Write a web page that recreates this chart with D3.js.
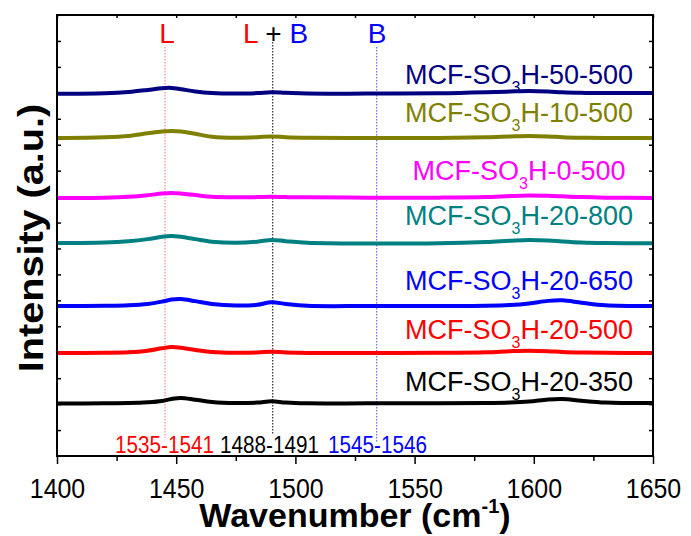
<!DOCTYPE html>
<html>
<head>
<meta charset="utf-8">
<script src="https://cdn.jsdelivr.net/npm/d3@7"></script>
<style>
  html, body { margin: 0; padding: 0; background: #fff; }
  svg { display: block; font-family: "Liberation Sans", Arial, sans-serif; }
</style>
</head>
<body>
<svg id="chart" width="691" height="536"></svg>
<script>
// Wavenumber grid (cm^-1) shared by all spectra
const wavenumbers = [1400, 1420, 1430, 1438, 1444, 1448, 1452, 1458, 1465, 1475, 1484, 1490,
                     1496, 1505, 1530, 1560, 1580, 1590, 1598, 1606, 1612, 1620, 1630, 1650];

// Stacked pyridine-IR intensities (a.u., offset per sample)
const s20_350 = [2.02, 2.03, 2.04, 2.07, 2.12, 2.20, 2.24, 2.17, 2.08, 2.04, 2.06, 2.11,
                 2.06, 2.03, 2.03, 2.03, 2.04, 2.06, 2.10, 2.18, 2.20, 2.13, 2.06, 2.04];
const s20_500 = [3.97, 3.98, 4.00, 4.06, 4.15, 4.20, 4.17, 4.09, 4.01, 3.98, 3.99, 4.02,
                 3.99, 3.97, 3.97, 3.98, 4.00, 4.04, 4.06, 4.04, 4.01, 3.99, 3.98, 3.97];
const s20_650 = [5.78, 5.79, 5.81, 5.86, 5.95, 6.03, 6.05, 5.97, 5.86, 5.80, 5.83, 5.93,
                 5.86, 5.79, 5.78, 5.78, 5.79, 5.82, 5.88, 5.98, 6.00, 5.91, 5.81, 5.78];
const s20_800 = [8.21, 8.23, 8.28, 8.36, 8.45, 8.48, 8.45, 8.36, 8.26, 8.22, 8.26, 8.33,
                 8.28, 8.22, 8.19, 8.20, 8.25, 8.30, 8.33, 8.31, 8.27, 8.23, 8.21, 8.20];
const s0_500  = [9.95, 9.96, 9.99, 10.05, 10.12, 10.14, 10.12, 10.06, 9.99, 9.97, 9.98, 9.99,
                 9.98, 9.97, 9.96, 9.96, 9.98, 10.02, 10.04, 10.03, 10.01, 9.98, 9.96, 9.95];
const s10_500 = [12.26, 12.29, 12.34, 12.44, 12.51, 12.53, 12.51, 12.42, 12.31, 12.27, 12.29, 12.32,
                 12.29, 12.27, 12.26, 12.26, 12.29, 12.32, 12.34, 12.32, 12.29, 12.27, 12.26, 12.26];
const s50_500 = [13.96, 13.98, 14.03, 14.11, 14.18, 14.19, 14.14, 14.05, 13.99, 13.97, 13.99, 14.02,
                 14.00, 13.97, 13.97, 13.98, 14.02, 14.05, 14.07, 14.05, 14.02, 14.00, 13.99, 13.99];

// Sample name parts: "MCF-SO" + subscript "3" + "H-" + suffix
const sampleSuffixes = ["20-350", "20-500", "20-650", "20-800", "0-500", "10-500", "50-500"];
const sampleColors   = ["#000000", "#ff0000", "#0000ff", "#008080", "#ff00ff", "#808000", "#000080"];
const sampleSeries   = [s20_350, s20_500, s20_650, s20_800, s0_500, s10_500, s50_500];

// Band reference lines and their annotations
const bandPositions   = [1445.3, 1490.5, 1534.1];
const bandLineColors  = ["#ff7070", "#000000", "#5050ff"];
const rangeLabels     = ["1535-1541", "1488-1491", "1545-1546"];
const rangeColors     = ["#ff0000", "#000000", "#0000ff"];

const xTicks = [1400, 1450, 1500, 1550, 1600, 1650];
const xMinorTicks = [1425, 1475, 1525, 1575, 1625];

// ---- layout ----
const plotLeft = 57, plotRight = 653, plotTop = 15, plotBottom = 456;
const svg = d3.select("#chart");

const x = d3.scaleLinear().domain([1400, 1650]).range([plotLeft, plotRight]);
const y = d3.scaleLinear().domain([0, 17]).range([plotBottom, plotTop]);

// axes: inward ticks on left/right/top, outward on bottom
const axisStyle = g => {
  g.select(".domain").remove();
  g.selectAll(".tick line").attr("stroke", "#000").attr("stroke-width", 1.5);
};

svg.append("g").attr("transform", `translate(0,${plotBottom})`)
  .call(d3.axisBottom(x).tickValues(xTicks).tickSize(8).tickFormat(d3.format("d")))
  .call(axisStyle)
  .call(g => g.selectAll("text")
    .attr("y", 42).attr("dy", null)
    .attr("transform", "scale(0.89,1)")
    .attr("font-size", 28).attr("font-family", "Liberation Sans, Arial, sans-serif")
    .attr("fill", "#000"));

svg.append("g").attr("transform", `translate(0,${plotBottom})`)
  .call(d3.axisBottom(x).tickValues(xMinorTicks).tickSize(5).tickFormat(""))
  .call(axisStyle);

svg.append("g").attr("transform", `translate(0,${plotTop})`)
  .call(d3.axisTop(x).tickValues(xTicks.concat(xMinorTicks)).tickSize(-3).tickFormat(""))
  .call(axisStyle);

const yTicks = d3.range(1, 17);
svg.append("g").attr("transform", `translate(${plotLeft},0)`)
  .call(d3.axisLeft(y).tickValues(yTicks).tickSize(-4).tickFormat(""))
  .call(axisStyle);
svg.append("g").attr("transform", `translate(${plotRight},0)`)
  .call(d3.axisRight(y).tickValues(yTicks).tickSize(-4).tickFormat(""))
  .call(axisStyle);

// band marker lines (dotted)
const bandTops = [47, 42, 47];
const bandBottoms = [438, 435, 443];
bandPositions.forEach((b, i) => {
  svg.append("line")
    .attr("x1", x(b)).attr("x2", x(b))
    .attr("y1", bandTops[i]).attr("y2", bandBottoms[i])
    .attr("stroke", bandLineColors[i]).attr("stroke-width", 1)
    .attr("stroke-dasharray", "1.5,1.5");
});

// spectra
const line = d3.line()
  .x((d, i) => x(wavenumbers[i]))
  .y(d => y(d))
  .curve(d3.curveCatmullRom.alpha(0.5));

sampleSeries.forEach((s, i) => {
  svg.append("path")
    .attr("d", line(s))
    .attr("fill", "none")
    .attr("stroke", sampleColors[i])
    .attr("stroke-width", 4)
    .attr("stroke-linejoin", "round");
});

// sample labels above each trace
const labelRise = [13, 14, 16, 18, 18, 16, 10];
const labelCenter = 519;
sampleSeries.forEach((s, i) => {
  const t = svg.append("text")
    .attr("x", labelCenter)
    .attr("y", y(s[0]) - labelRise[i])
    .attr("text-anchor", "middle")
    .attr("font-size", 27)
    .attr("fill", sampleColors[i]);
  t.append("tspan").text("MCF-SO");
  t.append("tspan").attr("font-size", 16).attr("dy", 9).text("3");
  t.append("tspan").attr("dy", -9).text("H-" + sampleSuffixes[i]);
});

// band-type labels at the top
const topLabels = svg.append("g").attr("font-size", 28);
topLabels.append("text").attr("x", 167).attr("y", 43).attr("text-anchor", "middle")
  .attr("fill", "#ff0000").text("L");
const lb = topLabels.append("text").attr("x", 243).attr("y", 43);
lb.append("tspan").attr("fill", "#ff0000").text("L");
lb.append("tspan").attr("fill", "#000").text(" + ");
lb.append("tspan").attr("fill", "#0000ff").text("B");
topLabels.append("text").attr("x", 377).attr("y", 43).attr("text-anchor", "middle")
  .attr("fill", "#0000ff").text("B");

// wavenumber ranges at the bottom
const rangeStarts = [115, 220, 328];
rangeLabels.forEach((r, i) => {
  svg.append("text")
    .attr("transform", `translate(${rangeStarts[i]},453) scale(0.9,1)`)
    .attr("font-size", 23)
    .attr("fill", rangeColors[i])
    .text(r);
});

// frame
svg.append("rect")
  .attr("x", plotLeft).attr("y", plotTop)
  .attr("width", plotRight - plotLeft).attr("height", plotBottom - plotTop)
  .attr("fill", "none").attr("stroke", "#000").attr("stroke-width", 2);

// axis titles
const xt = svg.append("text")
  .attr("x", (plotLeft + plotRight) / 2).attr("y", 527)
  .attr("text-anchor", "middle")
  .attr("font-size", 34).attr("font-weight", "bold");
xt.append("tspan").text("Wavenumber (cm");
xt.append("tspan").attr("font-size", 20).attr("dy", -14).text("-1");
xt.append("tspan").attr("dy", 14).text(")");

svg.append("text")
  .attr("transform", "translate(43,238) rotate(-90) scale(1.1,1)")
  .attr("text-anchor", "middle")
  .attr("font-size", 36).attr("font-weight", "bold")
  .text("Intensity (a.u.)");
</script>
</body>
</html>
